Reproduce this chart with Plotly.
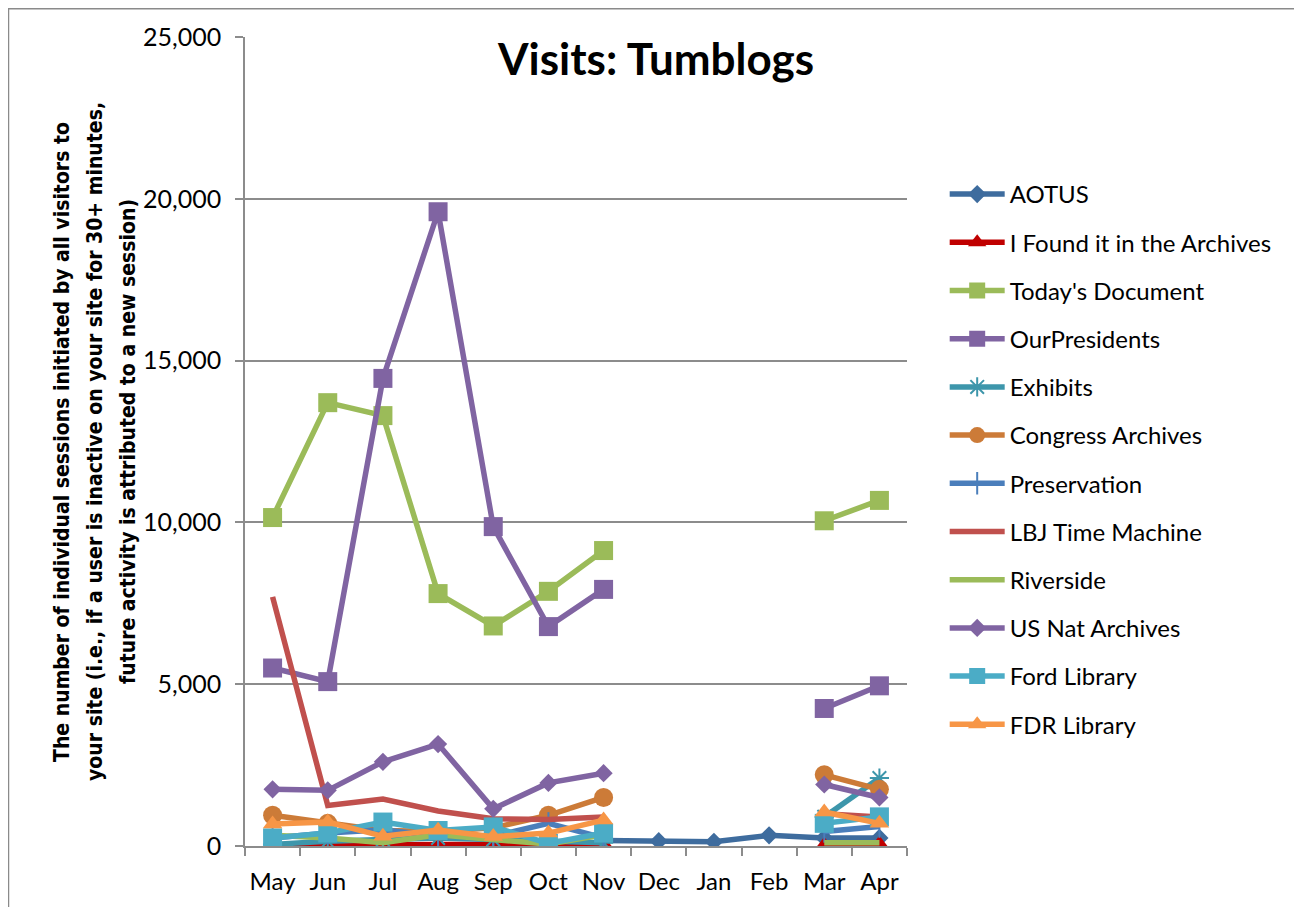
import plotly.graph_objects as go

months = ["May", "Jun", "Jul", "Aug", "Sep", "Oct", "Nov", "Dec", "Jan", "Feb", "Mar", "Apr"]
N = None

aotus =          [N, N, N, N, N, N, 170, 150, 130, 330, 250, 250]
i_found =        [20, 60, 40, 40, 30, 60, 60, N, N, N, 20, 60]
todays_doc =     [10150, 13700, 13300, 7800, 6800, 7870, 9130, N, N, N, 10050, 10680]
our_presidents = [5500, 5080, 14450, 19600, 9870, 6780, 7930, N, N, N, 4250, 4950]
exhibits =       [50, 150, 200, 250, 200, 150, 100, N, N, N, 900, 2100]
congress =       [950, 700, 480, 450, 560, 950, 1500, N, N, N, 2200, 1750]
preservation =   [250, 400, 500, 300, 300, 700, 250, N, N, N, 450, 600]
lbj =            [7700, 1250, 1450, 1080, 840, 820, 900, N, N, N, 1000, 900]
riverside =      [330, 250, 100, 350, 200, 60, 350, N, N, N, 100, 100]
us_nat =         [1750, 1720, 2600, 3150, 1150, 1950, 2250, N, N, N, 1900, 1500]
ford =           [250, 400, 740, 480, 590, 80, 400, N, N, N, 700, 900]
fdr =            [680, 740, 300, 490, 290, 400, 800, N, N, N, 1050, 700]

series = [
    ("AOTUS", aotus, "#3E6C9E", "diamond", 14, "lines+markers"),
    ("I Found it in the Archives", i_found, "#C00000", "triangle-up", 17, "lines+markers"),
    ("Today's Document", todays_doc, "#9BBB59", "square", 19, "lines+markers"),
    ("OurPresidents", our_presidents, "#8064A2", "square", 19, "lines+markers"),
    ("Exhibits", exhibits, "#3D96AB", "asterisk-open", 16, "lines+markers"),
    ("Congress Archives", congress, "#CC7B38", "circle", 19, "lines+markers"),
    ("Preservation", preservation, "#4A7EBB", "line-ns-open", 16, "lines+markers"),
    ("LBJ Time Machine", lbj, "#C0504D", "circle", 1, "lines"),
    ("Riverside", riverside, "#9BBB59", "circle", 1, "lines"),
    ("US Nat Archives", us_nat, "#8064A2", "diamond", 14, "lines+markers"),
    ("Ford Library", ford, "#4BACC6", "square", 19, "lines+markers"),
    ("FDR Library", fdr, "#F79646", "triangle-up", 17, "lines+markers"),
]

fig = go.Figure()
for i, (name, vals, color, sym, size, mode) in enumerate(series):
    marker = dict(symbol=sym, size=size, color=color)
    if sym in ("asterisk-open", "line-ns-open"):
        marker["line"] = dict(color=color, width=2)
    fig.add_trace(go.Scatter(
        x=months, y=vals, name=name, mode=mode,
        line=dict(color=color, width=5.5),
        marker=marker,
        connectgaps=False,
        legendgroup=f"g{i}",
    ))

FONT = "Lato, Open Sans, sans-serif"
NARROW = "Liberation Sans Narrow, DejaVu Sans Condensed, sans-serif"

# page-pixel helpers (page has 8px body margin)
def px(xp):
    return (xp - 245) / 662

def py(yp):
    return (846 - yp) / 809

ytitle_lines = [
    "The number of individual sessions initiated by all visitors to",
    "your site (i.e., if a user is inactive on your site for 30+ minutes,",
    "future activity is attributed to a new session)",
]
ytitle_x = [62, 95, 128]

annotations = [
    dict(text="<b>Visits: Tumblogs</b>", xref="paper", yref="paper",
         x=px(655), y=py(58), xanchor="center", yanchor="middle",
         showarrow=False, font=dict(size=44, family=FONT, color="black")),
]
for line, xp in zip(ytitle_lines, ytitle_x):
    annotations.append(dict(
        text=f"<b>{line}</b>", xref="paper", yref="paper", x=px(xp), y=py(442),
        xanchor="center", yanchor="middle", textangle=-90, showarrow=False,
        font=dict(size=21, family=NARROW, color="black")))

fig.update_layout(
    width=1294, height=899,
    paper_bgcolor="white", plot_bgcolor="white",
    margin=dict(l=237, r=395, t=29, b=61, autoexpand=False),
    font=dict(family=FONT, color="black"),
    showlegend=True,
    legend=dict(
        x=px(948) - 0.005, y=py(172), xanchor="left", yanchor="top",
        font=dict(size=24, family=FONT, color="black"),
        itemwidth=55, tracegroupgap=14, bgcolor="rgba(0,0,0,0)",
    ),
    annotations=annotations,
    shapes=[
        dict(type="rect", xref="paper", yref="paper",
             x0=px(8.5), x1=px(1300.5), y0=py(930), y1=py(8.8),
             line=dict(color="#8a8a8a", width=1.5), fillcolor="rgba(0,0,0,0)", layer="below"),
    ],
)

fig.update_xaxes(
    type="category", range=[-0.5, 11.5], showgrid=False,
    showline=True, linecolor="#8c8c8c", linewidth=1.5,
    ticks="outside", ticklen=8, tickcolor="#8c8c8c", tickwidth=1.5,
    tickson="boundaries", tickfont=dict(size=24, family=FONT),
    tickangle=0, automargin=False,
    ticklabelstandoff=13, zeroline=False,
)
fig.update_yaxes(
    range=[0, 25000], dtick=5000, tickformat=",d",
    showgrid=True, gridcolor="#8c8c8c", gridwidth=1.5,
    showline=True, linecolor="#8c8c8c", linewidth=1.5,
    ticks="outside", ticklen=8, tickcolor="#8c8c8c", tickwidth=1.5,
    tickfont=dict(size=25, family=FONT), automargin=False,
    ticklabelstandoff=9, zeroline=False,
)

fig.write_html("out.html")
